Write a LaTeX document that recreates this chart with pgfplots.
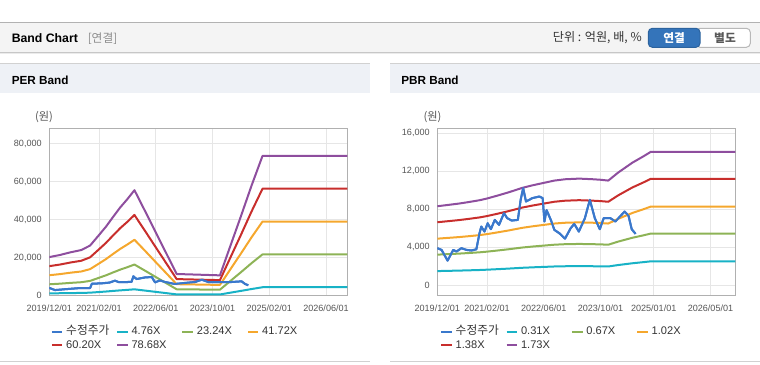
\documentclass[border=0pt]{standalone}
\usepackage{pgfplots}
\pgfplotsset{compat=1.18}
\usepackage{pgfplotstable}
\usepackage{fontspec}
\setmainfont{Liberation Sans}
\newfontfamily\kr{Noto Sans CJK KR}

\definecolor{cprice}{RGB}{58,120,204}
\definecolor{ccyan}{RGB}{24,178,198}
\definecolor{cgreen}{RGB}{141,179,86}
\definecolor{corange}{RGB}{245,167,45}
\definecolor{cred}{RGB}{200,46,44}
\definecolor{cpurple}{RGB}{142,78,158}
\definecolor{axisgray}{RGB}{176,176,176}
\definecolor{gridgray}{RGB}{230,230,230}
\definecolor{ticktext}{RGB}{85,85,85}
\definecolor{hdrbg}{RGB}{244,244,244}
\definecolor{panelbg}{RGB}{238,241,246}
\definecolor{btnblue}{RGB}{52,116,186}

% PER bands: month, 4.76X, 23.24X, 41.72X, 60.20X, 78.68X
\pgfplotstableread{
m b1 b2 b3 b4 b5
0 1228 5996 10764 15532 20299
3 1295 6321 11348 16374 21401
6 1380 6740 12099 17458 22817
9 1452 7088 12725 18361 23997
11.5 1595 7785 13976 20167 26358
14 1928 9412 16897 24381 31865
16 2199 10737 19275 27812 36350
18 2509 12247 21986 31725 41464
20 2808 13712 24615 35518 46421
22 3070 14990 26909 38829 50749
24 3356 16384 29413 42441 55469
27 2689 13131 23572 34013 44454
30 2013 9831 17648 25465 33282
33 1342 6554 11765 16976 22188
35.9 690 3370 6049 8729 11409
40 676 3300 5924 8548 11173
44 662 3230 5799 8368 10937
48.1 647 3161 5674 8187 10700
51 1571 7669 13768 19866 25964
54 2523 12317 22112 31906 41700
57 3499 17081 30664 44247 57830
60.1 4446 21706 38966 56227 73487
84 4446 21706 38966 56227 73487
}\perbands

\pgfplotstableread{
m p
0 4100
1.6 2950
4.4 3400
8.2 3950
11.5 4000
12.0 6300
14.8 6500
17.0 6900
18.5 7900
19.5 7200
21.0 7100
23.2 7300
23.7 10200
24.6 8750
27.0 9600
28.9 9800
29.8 7000
31.2 8050
32.6 7200
35.4 6150
38.2 6700
41.1 7200
43.0 8400
44.8 7200
47.6 7200
51.4 7200
54.2 7550
55.2 6150
56.1 5460
}\perprice

% PBR bands: month, 0.31X, 0.67X, 1.02X, 1.38X, 1.73X
\pgfplotstableread{
m b1 b2 b3 b4 b5
0 1488 3216 4896 6624 8304
3 1513 3270 4978 6734 8442
6 1538 3323 5059 6845 8581
9 1569 3390 5161 6983 8754
12 1603 3464 5273 7135 8944
14 1634 3531 5375 7273 9117
17 1690 3652 5559 7521 9429
20 1748 3779 5753 7783 9757
22 1792 3873 5896 7976 9999
24 1835 3966 6038 8170 10242
27 1885 4074 6202 8390 10518
30 1928 4167 6344 8584 10761
33 1972 4261 6487 8777 11003
36 1996 4315 6569 8887 11141
40 2009 4342 6610 8942 11210
44 1996 4315 6569 8887 11141
46 1987 4295 6538 8846 11089
48.2 1972 4261 6487 8777 11003
51 2124 4590 6987 9453 11851
55 2310 4992 7599 10281 12889
58 2424 5239 7976 10792 13529
60.2 2514 5434 8272 11192 14030
84 2514 5434 8272 11192 14030
}\pbrbands

\pgfplotstableread{
m p
0 3895
1.2 3716
2.9 2590
4.5 3716
5.4 3540
6.8 3895
8.2 3716
9.6 3650
11.0 3780
11.9 5470
12.4 6170
13.3 5640
14.2 6520
15.1 5890
16.2 6870
17.4 6350
18.8 7580
19.7 7050
21.0 6800
22.7 6870
23.5 8980
24.2 10210
25.0 8800
26.8 9160
28.8 9330
29.7 9160
30.2 6700
30.8 7900
32.0 6870
33.0 5820
34.4 5470
36.0 4900
37.6 6000
38.6 6450
39.9 5640
41.6 7050
43.0 8980
44.4 7050
45.8 5890
46.9 7050
48.8 7050
50.2 6700
52.8 7750
53.9 7300
54.8 5890
55.9 5400
}\pbrprice

\pgfplotsset{
  bandaxis/.style={
    scale only axis, width=223.5pt, height=125.55pt,
    xmin=0, xmax=84,
    axis line style={draw=axisgray, line width=0.6pt},
    grid=major, major grid style={draw=gridgray, line width=0.6pt},
    major tick length=0pt,
    ticklabel style={font=\fontsize{6.8}{8}\selectfont, text=ticktext},
    xticklabel style={yshift=-3.6pt},
    yticklabel style={xshift=-2.2pt},
    /pgf/number format/assume math mode=true,
    scaled y ticks=false,
    yticklabel style={/pgf/number format/1000 sep={,}},
    every axis plot/.append style={line width=1.5pt, mark=none, line join=round},
    legend columns=4,
    legend cell align=left,
    legend image code/.code={\draw[##1, line width=1.6pt] (0pt,0pt) -- (8pt,0pt);},
    legend style={draw=none, fill=none, anchor=north west,
      font=\fontsize{8.3}{9.5}\selectfont, text=black!80,
      inner sep=0pt, row sep=1.6pt,
      /tikz/every even column/.append style={column sep=0pt},
      nodes={inner xsep=2pt, inner ysep=0.5pt, text width=35.4pt, text height=6pt, text depth=1.5pt}},
  }
}

\begin{document}
\begin{tikzpicture}
\useasboundingbox (0,0) rectangle (570pt,273pt);
\begin{scope}[x=0.75pt,y=-0.75pt,shift={(0pt,273pt)}]
  \draw[draw=black!30, line width=0.75pt] (0,22.6) -- (760,22.6);
  \fill[hdrbg] (0,23) rectangle (760,52);
  \draw[draw=black!22, line width=0.75pt] (0,52.4) -- (760,52.4);
  \draw[draw=black!8, line width=0.75pt] (0,53.4) -- (760,53.4);
  \node[anchor=west, inner sep=0pt, font=\bfseries\fontsize{9.2}{11}\selectfont] at (11.5,38.3) {Band Chart};
  \node[anchor=west, inner sep=0pt, text=black!45, font=\kr\fontsize{8.8}{10}\selectfont] at (87.5,38.3) {[연결]};
  \node[anchor=east, inner sep=0pt, text=black!80, font=\kr\fontsize{9.1}{10}\selectfont] at (642,37.6) {단위 : 억원, 배, \%};
  \filldraw[fill=white, draw=black!28, line width=0.75pt, rounded corners=3pt] (696,28.3) rectangle (750.3,47.3);
  \filldraw[fill=btnblue, draw=btnblue!85!black, line width=0.75pt, rounded corners=3pt] (648.3,28.3) rectangle (700,47.3);
  \node[text=white, inner sep=0pt, font=\kr\bfseries\fontsize{8.8}{10}\selectfont] at (674.2,37.8) {연결};
  \node[text=black!65, inner sep=0pt, font=\kr\bfseries\fontsize{8.8}{10}\selectfont] at (725,37.8) {별도};
  % panel headers
  \fill[panelbg] (0,63.6) rectangle (370,92.7);
  \draw[draw=black!18, line width=0.75pt] (0,63.6) -- (370,63.6);
  \fill[panelbg] (390,63.6) rectangle (760,92.7);
  \draw[draw=black!18, line width=0.75pt] (390,63.6) -- (760,63.6);
  \node[anchor=west, inner sep=0pt, font=\bfseries\fontsize{8.8}{10}\selectfont] at (11.5,80.7) {PER Band};
  \node[anchor=west, inner sep=0pt, font=\bfseries\fontsize{8.8}{10}\selectfont] at (401,80.7) {PBR Band};
  \node[inner sep=0pt, text=ticktext, font=\kr\fontsize{8.4}{10}\selectfont] at (44,117.3) {(원)};
  \node[inner sep=0pt, text=ticktext, font=\kr\fontsize{8.4}{10}\selectfont] at (432.5,117.3) {(원)};
  \draw[draw=black!18, line width=0.75pt] (0,361.6) -- (370,361.6);
  \draw[draw=black!18, line width=0.75pt] (390,361.6) -- (760,361.6);
\end{scope}

% PER Band
\begin{axis}[bandaxis, at={(36.975pt,51.225pt)}, anchor=south west,
  ymin=0, ymax=88000, ytick={0,20000,40000,60000,80000},
  xtick={0,14,30,46,62,78},
  xticklabels={2019/12/01,2021/02/01,2022/06/01,2023/10/01,2025/02/01,2026/06/01},
  legend style={at={(0.004,-0.179)}}]
\addplot[cprice] table[x=m,y=p] {\perprice};
\addlegendentry{{\kr\fontsize{8.8}{9.5}\selectfont 수정주가}}
\addplot[ccyan] table[x=m,y=b1] {\perbands};
\addlegendentry{4.76X}
\addplot[cgreen] table[x=m,y=b2] {\perbands};
\addlegendentry{23.24X}
\addplot[corange] table[x=m,y=b3] {\perbands};
\addlegendentry{41.72X}
\addplot[cred] table[x=m,y=b4] {\perbands};
\addlegendentry{60.20X}
\addplot[cpurple] table[x=m,y=b5] {\perbands};
\addlegendentry{78.68X}
\addplot[cprice, forget plot] table[x=m,y=p] {\perprice};
\end{axis}

% PBR Band
\begin{axis}[bandaxis, at={(327.975pt,51.225pt)}, anchor=south west,
  ymin=-1100, ymax=16500, ytick={0,4000,8000,12000,16000},
  xtick={0,14,30,46,61,77},
  xticklabels={2019/12/01,2021/02/01,2022/06/01,2023/10/01,2025/01/01,2026/05/01},
  legend style={at={(0.009,-0.179)}}]
\addplot[cprice] table[x=m,y=p] {\pbrprice};
\addlegendentry{{\kr\fontsize{8.8}{9.5}\selectfont 수정주가}}
\addplot[ccyan] table[x=m,y=b1] {\pbrbands};
\addlegendentry{0.31X}
\addplot[cgreen] table[x=m,y=b2] {\pbrbands};
\addlegendentry{0.67X}
\addplot[corange] table[x=m,y=b3] {\pbrbands};
\addlegendentry{1.02X}
\addplot[cred] table[x=m,y=b4] {\pbrbands};
\addlegendentry{1.38X}
\addplot[cpurple] table[x=m,y=b5] {\pbrbands};
\addlegendentry{1.73X}
\addplot[cprice, forget plot] table[x=m,y=p] {\pbrprice};
\end{axis}
\end{tikzpicture}
\end{document}
